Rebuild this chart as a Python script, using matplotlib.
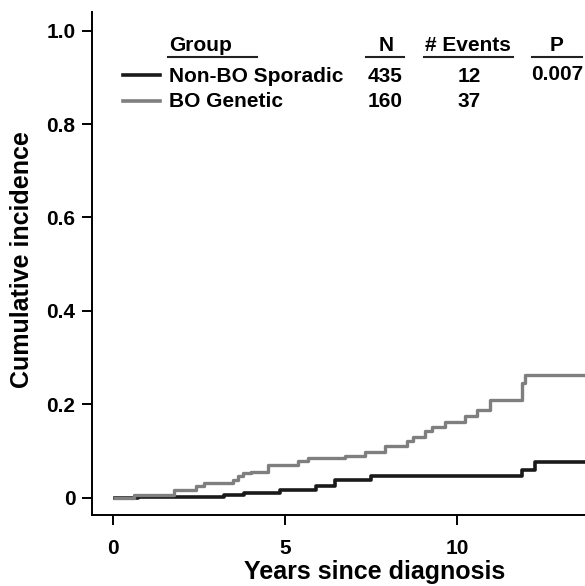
import matplotlib
matplotlib.use('Agg')

import matplotlib.pyplot as plt
from matplotlib.lines import Line2D

plt.rcParams['font.family'] = ['Liberation Sans', 'DejaVu Sans']
plt.rcParams['font.weight'] = 'bold'

# Donnees (temps en annees, incidence cumulee)
t_sporadic = [0.07, 0.72, 3.24, 3.82, 4.84, 5.91, 6.44, 7.50, 11.87, 12.26, 14.0]
y_sporadic = [0.000, 0.002, 0.006, 0.011, 0.017, 0.026, 0.038, 0.047, 0.060, 0.076, 0.076]

t_genetic = [0.07, 0.63, 1.79, 2.42, 2.66, 3.48, 3.63, 3.78, 4.02, 4.51, 5.38, 5.67,
             6.74, 7.32, 7.90, 8.53, 8.72, 9.06, 9.25, 9.64, 10.22, 10.56, 10.95,
             11.87, 11.96, 14.0]
y_genetic = [0.000, 0.006, 0.016, 0.025, 0.032, 0.039, 0.046, 0.052, 0.056, 0.070, 0.078, 0.086,
             0.089, 0.098, 0.111, 0.121, 0.131, 0.143, 0.152, 0.163, 0.175, 0.188, 0.209,
             0.246, 0.262, 0.262]

groups = ["Non-BO Sporadic", "BO Genetic"]
n_patients = ["435", "160"]
n_events = ["12", "37"]
p_value = "0.007"

W, H = 585, 586
fig = plt.figure(figsize=(W / 100, H / 100), dpi=100)
ax = fig.add_axes([92 / W, 1 - 515 / H, 1 - 92 / W, (515 - 12) / H])

ax.step(t_sporadic, y_sporadic, where='post', color='#1a1a1a', lw=2.6)
ax.step(t_genetic, y_genetic, where='post', color='#7f7f7f', lw=2.4)

ax.set_xlim(-0.6, 13.7)
ax.set_ylim(-0.037, 1.04)
ax.set_xticks([0, 5, 10])
ax.set_xticklabels(['0', '5', '10'])
ax.set_yticks([0, 0.2, 0.4, 0.6, 0.8, 1.0])
ax.set_yticklabels(['0', '0.2', '0.4', '0.6', '0.8', '1.0'])
ax.spines['top'].set_visible(False)
ax.spines['right'].set_visible(False)
for s in ['left', 'bottom']:
    ax.spines[s].set_linewidth(1.4)
ax.tick_params(direction='out', length=7, width=1.4, labelsize=15, pad=5)
ax.tick_params(axis='x', pad=10)
for lab in ax.get_xticklabels() + ax.get_yticklabels():
    lab.set_fontweight('bold')

ax.set_xlabel("Years since diagnosis", fontsize=18, fontweight='bold')
ax.set_ylabel("Cumulative incidence", fontsize=18, fontweight='bold')
ax.xaxis.set_label_coords(0.574, -0.09)
ax.yaxis.set_label_coords(-0.118, 0.508)


# Tableau-legende en haut
def px(x, y):
    return x / W, 1 - y / H


def txt(x, y, s, ha='left'):
    fig.text(*px(x, y), s, ha=ha, va='baseline', fontsize=15, fontweight='bold')


def hline(x0, x1, y, color='#222222', lw=1.5):
    fig.add_artist(Line2D([x0 / W, x1 / W], [1 - y / H, 1 - y / H], color=color, lw=lw))


txt(169, 51, "Group")
txt(386, 51, "N", ha='center')
txt(468, 51, "# Events", ha='center')
txt(557, 51, "P", ha='center')
hline(168, 257, 57)
hline(366, 404, 57)
hline(424, 513, 57)
hline(532, 582, 57)

row_y = [82, 107]
line_y = [75, 101]
row_col = ['#1a1a1a', '#7f7f7f']
for i in range(2):
    hline(123, 160, line_y[i], color=row_col[i], lw=2.6)
    txt(169, row_y[i], groups[i])
    txt(385, row_y[i], n_patients[i], ha='center')
    txt(469, row_y[i], n_events[i], ha='center')
txt(557, 80, p_value, ha='center')

fig.savefig("out.png", dpi=100)
